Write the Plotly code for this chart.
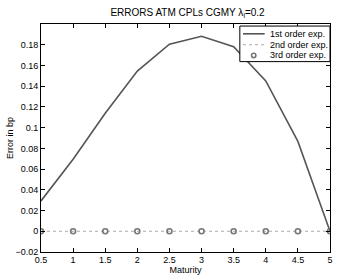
import plotly.graph_objects as go

maturity = [0.5, 1, 1.5, 2, 2.5, 3, 3.5, 4, 4.5, 5]
first_order = [0.0293, 0.0695, 0.1139, 0.1546, 0.1805, 0.1881, 0.178, 0.1451, 0.0867, 0.0]
second_order = [0, 0, 0, 0, 0, 0, 0, 0, 0, 0]
third_order = [0, 0, 0, 0, 0, 0, 0, 0, 0, 0]
series_names = ["1st order exp.", "2nd order exp.", "3rd order exp."]

x_ticks = [0.5, 1, 1.5, 2, 2.5, 3, 3.5, 4, 4.5, 5]
x_ticklabels = ["0.5", "1", "1.5", "2", "2.5", "3", "3.5", "4", "4.5", "5"]
y_ticks = [-0.02, 0, 0.02, 0.04, 0.06, 0.08, 0.1, 0.12, 0.14, 0.16, 0.18, 0.2]
y_ticklabels = ["\u22120.02", "0", "0.02", "0.04", "0.06", "0.08", "0.1", "0.12", "0.14", "0.16", "0.18", ""]

fnt = "Liberation Sans, Arial, sans-serif"
c1, c2, c3 = "#555555", "#aaaaaa", "#777777"

fig = go.Figure()
fig.add_trace(go.Scatter(x=maturity, y=first_order, mode="lines", name=series_names[0],
                         line=dict(color=c1, width=1.6), showlegend=False))
fig.add_trace(go.Scatter(x=maturity, y=second_order, mode="lines", name=series_names[1],
                         line=dict(color=c2, width=1.2, dash="dot"), showlegend=False))
fig.add_trace(go.Scatter(x=maturity, y=third_order, mode="markers", name=series_names[2],
                         marker=dict(symbol="circle-open", size=5, color=c3,
                                     line=dict(width=1.6, color=c3)), showlegend=False))

axis_common = dict(showline=True, linecolor="black", linewidth=1, mirror="ticks",
                   ticks="inside", ticklen=4, tickcolor="black", showgrid=False,
                   zeroline=False, tickfont=dict(size=9, color="black", family=fnt))

# manual legend box (paper coordinates)
lx0, lx1, ly0, ly1 = 0.688, 1.0, 0.835, 0.991
rows = [0.957, 0.909, 0.862]
shapes = [dict(type="rect", xref="paper", yref="paper", x0=lx0, x1=lx1, y0=ly0, y1=ly1,
               line=dict(color="black", width=1), fillcolor="white", layer="above")]
shapes.append(dict(type="line", xref="paper", yref="paper", x0=0.699, x1=0.774, y0=rows[0], y1=rows[0],
                   line=dict(color=c1, width=1.6), layer="above"))
shapes.append(dict(type="line", xref="paper", yref="paper", x0=0.699, x1=0.774, y0=rows[1], y1=rows[1],
                   line=dict(color=c2, width=1.2, dash="dot"), layer="above"))
shapes.append(dict(type="circle", xref="paper", yref="paper", x0=0.736 - 0.0075, x1=0.736 + 0.0075,
                   y0=rows[2] - 0.0095, y1=rows[2] + 0.0095, line=dict(color=c3, width=1.6), layer="above"))
annotations = [dict(text=n, xref="paper", yref="paper", x=0.784, y=r, xanchor="left", yanchor="middle",
                    showarrow=False, font=dict(size=9, family=fnt, color="black"))
               for n, r in zip(series_names, rows)]

fig.update_layout(
    width=341, height=279,
    margin=dict(l=41, r=8, t=24, b=25),
    paper_bgcolor="white", plot_bgcolor="white",
    font=dict(family=fnt, size=9, color="black"),
    title=dict(text="ERRORS ATM CPLs CGMY \u03bb<sub>l</sub>=0.2", x=0.55, xanchor="center",
               y=0.955, yanchor="middle", font=dict(size=10, family=fnt, color="black")),
    xaxis=dict(range=[0.5, 5], tickvals=x_ticks, ticktext=x_ticklabels, ticklabelstandoff=-1,
               title=dict(text="Maturity", font=dict(size=9), standoff=0), **axis_common),
    yaxis=dict(range=[-0.02, 0.2], tickvals=y_ticks, ticktext=y_ticklabels,
               title=dict(text="Error in bp", font=dict(size=9), standoff=0), **axis_common),
    shapes=shapes,
    annotations=annotations,
    showlegend=False,
)

fig.write_html("out.html", config={"displayModeBar": False},
               post_script="document.body.style.margin='0';document.body.style.padding='0';")
